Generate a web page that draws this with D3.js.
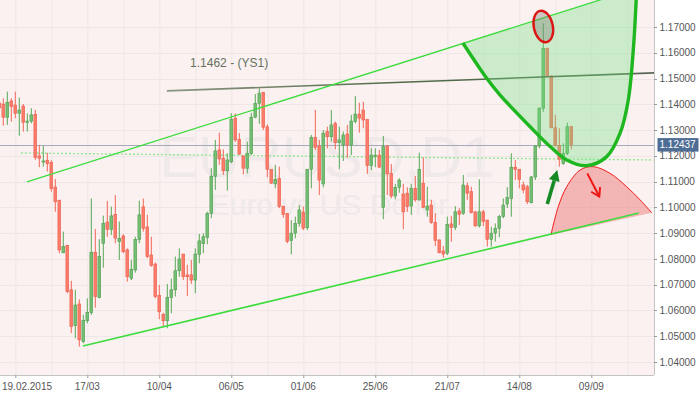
<!DOCTYPE html>
<html>
<head>
<meta charset="utf-8">
<script src="https://cdn.jsdelivr.net/npm/d3@7"></script>
<style>
  body { margin: 0; background: #fff; }
  svg { display: block; }
</style>
</head>
<body>
<div id="chart"></div>
<script>
// EURUSD daily candles, first bar = 13.02.2015 (bar index 0)
const open = [1.1405,1.1401,1.1350,1.1413,1.1397,1.1365,1.1393,1.1330,1.1335,1.1361,
  1.1200,1.1177,1.1183,1.1175,1.1079,1.1028,1.0824,1.0853,1.0680,1.0541,
  1.0625,1.0479,1.0560,1.0592,1.0826,1.0651,1.0861,1.0943,1.0915,1.0973,
  1.0867,1.0889,1.0835,1.0725,1.0757,1.0876,1.1002,1.0924,1.0815,1.0780,
  1.0659,1.0585,1.0560,1.0650,1.0680,1.0754,1.0819,1.0738,1.0738,1.0718,
  1.0818,1.0859,1.0884,1.0977,1.1121,1.1223,1.1191,1.1142,1.1177,1.1346,
  1.1264,1.1200,1.1152,1.1210,1.1350,1.1404,1.1447,1.1313,1.1148,1.1091,
  1.1113,1.1005,1.0977,1.0871,1.0900,1.0938,1.0982,1.0921,1.1148,1.1272,
  1.1238,1.1091,1.1294,1.1274,1.1326,1.1251,1.1242,1.1285,1.1242,1.1333,
  1.1362,1.1378,1.1342,1.1162,1.1197,1.1203,1.1000,1.1238,1.1132,1.1044,
  1.1078,1.1052,1.1055,1.1005,1.1074,1.1029,1.1094,1.0990,1.1009,1.0941,
  1.0874,1.0831,1.0822,1.0936,1.0922,1.0986,1.0977,1.1084,1.1061,1.0983,
  1.0928,1.0983,1.0951,1.0876,1.0900,1.0919,1.0964,1.1013,1.1035,1.1156,
  1.1148,1.1087,1.1080,1.1018,1.1118,1.1238,1.1385,1.1617,1.1510,1.1309,
  1.1241,1.1170,1.1210,1.1313];
const high = [1.1428,1.1423,1.1449,1.1423,1.1449,1.1426,1.1401,1.1365,1.1385,1.1378,
  1.1242,1.1238,1.1212,1.1183,1.1110,1.1028,1.0906,1.0853,1.0715,1.0680,
  1.0643,1.0583,1.0647,1.1035,1.0916,1.0877,1.0968,1.1025,1.1003,1.1048,
  1.0945,1.0896,1.0841,1.0796,1.0886,1.1026,1.1034,1.0971,1.0886,1.0786,
  1.0699,1.0591,1.0703,1.0723,1.0809,1.0841,1.0819,1.0777,1.0796,1.0841,
  1.0897,1.0900,1.0983,1.1152,1.1262,1.1290,1.1225,1.1210,1.1365,1.1365,
  1.1288,1.1200,1.1255,1.1367,1.1440,1.1462,1.1447,1.1322,1.1148,1.1165,
  1.1158,1.1005,1.0977,1.0951,1.0964,1.1009,1.1003,1.1148,1.1281,1.1378,
  1.1262,1.1300,1.1313,1.1378,1.1333,1.1313,1.1294,1.1320,1.1359,1.1432,
  1.1406,1.1410,1.1342,1.1229,1.1229,1.1223,1.1277,1.1242,1.1168,1.1091,
  1.1113,1.1091,1.1078,1.1091,1.1122,1.1212,1.1194,1.1080,1.1029,1.0977,
  1.0874,1.0850,1.0964,1.0967,1.1005,1.0997,1.1126,1.1096,1.1080,1.0983,
  1.1109,1.0990,1.0951,1.0925,1.0938,1.0971,1.1035,1.1078,1.1210,1.1184,
  1.1148,1.1100,1.1087,1.1122,1.1242,1.1388,1.1714,1.1620,1.1512,1.1359,
  1.1307,1.1249,1.1329,1.1316];
const low = [1.1370,1.1317,1.1320,1.1333,1.1346,1.1278,1.1294,1.1294,1.1326,1.1184,
  1.1156,1.1158,1.1139,1.1061,1.0983,1.0822,1.0822,1.0667,1.0512,1.0492,
  1.0460,1.0473,1.0550,1.0583,1.0611,1.0647,1.0766,1.0886,1.0893,1.0861,
  1.0796,1.0822,1.0712,1.0718,1.0747,1.0861,1.0906,1.0803,1.0770,1.0647,
  1.0566,1.0537,1.0531,1.0589,1.0654,1.0731,1.0718,1.0656,1.0703,1.0667,
  1.0783,1.0822,1.0857,1.0958,1.1068,1.1165,1.1126,1.1065,1.1171,1.1255,
  1.1203,1.1128,1.1132,1.1203,1.1346,1.1324,1.1300,1.1117,1.1091,1.1074,
  1.0997,1.0960,1.0861,1.0818,1.0880,1.0925,1.0912,1.0912,1.1074,1.1223,
  1.1048,1.1078,1.1229,1.1255,1.1225,1.1148,1.1180,1.1192,1.1203,1.1326,
  1.1290,1.1307,1.1130,1.1145,1.1156,1.1152,1.0954,1.1048,1.1035,1.1031,
  1.1057,1.0915,1.0983,1.0971,1.1022,1.1026,1.0997,1.0964,1.0936,1.0850,
  1.0822,1.0805,1.0815,1.0867,1.0912,1.0932,1.0971,1.1029,1.0977,1.0925,
  1.0922,1.0928,1.0848,1.0848,1.0867,1.0884,1.0958,1.0997,1.0964,1.1106,
  1.1074,1.1055,1.1013,1.1016,1.1106,1.1229,1.1371,1.1507,1.1307,1.1236,
  1.1158,1.1165,1.1203,1.1225];
const close = [1.1386,1.1350,1.1408,1.1392,1.1365,1.1378,1.1330,1.1335,1.1359,1.1194,
  1.1191,1.1180,1.1170,1.1073,1.1022,1.0835,1.0848,1.0673,1.0537,1.0621,
  1.0486,1.0562,1.0592,1.0826,1.0654,1.0810,1.0938,1.0915,1.0967,1.0881,
  1.0880,1.0828,1.0731,1.0760,1.0876,1.0971,1.0919,1.0809,1.0775,1.0654,
  1.0595,1.0560,1.0651,1.0680,1.0754,1.0800,1.0731,1.0731,1.0718,1.0819,
  1.0870,1.0886,1.0977,1.1121,1.1219,1.1188,1.1142,1.1184,1.1342,1.1262,
  1.1207,1.1152,1.1210,1.1350,1.1404,1.1443,1.1311,1.1148,1.1094,1.1109,
  1.1003,1.0973,1.0867,1.0900,1.0938,1.0990,1.0919,1.1148,1.1272,1.1233,
  1.1106,1.1288,1.1274,1.1320,1.1251,1.1262,1.1281,1.1242,1.1335,1.1362,
  1.1346,1.1339,1.1162,1.1203,1.1203,1.1156,1.1236,1.1130,1.1044,1.1078,
  1.1106,1.0983,1.1003,1.1074,1.1029,1.1148,1.0999,1.1005,1.0941,1.0871,
  1.0824,1.0819,1.0934,1.0922,1.0983,1.0973,1.1087,1.1055,1.0979,1.0928,
  1.0983,1.0945,1.0876,1.0900,1.0919,1.0964,1.1009,1.1039,1.1156,1.1148,
  1.1109,1.1068,1.1022,1.1118,1.1238,1.1385,1.1617,1.1510,1.1309,1.1241,
  1.1187,1.1210,1.1313,1.12437];

// bottom axis labels (bar index -> text)
const dateTickIdx = [4, 22, 40, 58, 76, 94, 112, 130, 148];
const dateTickLabels = ["19.02.2015", "17/03", "10/04", "06/05", "01/06", "25/06", "21/07", "14/08", "09/09"];
const priceTicks = d3.range(1.04, 1.1705, 0.01);

// drawn annotations, in [bar index, price]
const upperChannel = [[6.9, 1.1099], [165, 1.1878]];
const lowerChannel = [[20.9, 1.0462], [159.9, 1.0978]];
const ys1Line = [[41.9, 1.1452], [163.7, 1.1522]];
const ys1Value = 1.1462;
const dottedLevel = [[5.4, 1.1211], [163.5, 1.1184]];
const bowl = [[115.9, 1.1638], [121.85, 1.1501], [125.2, 1.1436], [132.7, 1.1313], [137.7, 1.1236],
  [141.85, 1.1184], [146.85, 1.1162], [151.85, 1.1197], [155.2, 1.1288], [157.25, 1.1417],
  [158.5, 1.1611], [159.3, 1.1830]];
const dome = [[137.9, 1.0893], [139.75, 1.1003], [141.85, 1.1080], [145.2, 1.1145], [148.5, 1.1158],
  [152.7, 1.1132], [156.85, 1.1080], [160.2, 1.1029], [163.1, 1.0979]];
const spikeMark = [136, 1.1702];
const upArrow = [[137, 1.1013], [139.5, 1.1145]];
const downArrow = [[147, 1.1132], [150, 1.1042]];

const W = 700, H = 394;
const plotW = 654, plotH = 375;
const axisFont = "'Liberation Sans', Arial, sans-serif";

const x = d3.scaleLinear().domain([0, 160]).range([-0.7, 639.3]);
const y = d3.scaleLinear().domain([1.04, 1.17]).range([362, 27]);

const svg = d3.select("#chart").append("svg")
  .attr("width", W).attr("height", H)
  .style("font-family", axisFont);

svg.append("rect").attr("width", W).attr("height", H).attr("fill", "#fff");

const defs = svg.append("defs");
defs.append("clipPath").attr("id", "plotclip")
  .append("rect").attr("width", plotW).attr("height", plotH);

const plot = svg.append("g").attr("clip-path", "url(#plotclip)");

plot.append("rect").attr("width", plotW).attr("height", plotH).attr("fill", "#faf1f0");

// grid
const gridIdx = d3.range(4, 161, 9);
plot.append("g").selectAll("line").data(gridIdx).join("line")
  .attr("x1", d => x(d) + 0.5).attr("x2", d => x(d) + 0.5)
  .attr("y1", 0).attr("y2", plotH)
  .attr("stroke", "#efe7e7").attr("stroke-width", 1);
plot.append("g").selectAll("line").data(priceTicks).join("line")
  .attr("x1", 0).attr("x2", plotW)
  .attr("y1", d => Math.round(y(d)) + 0.5).attr("y2", d => Math.round(y(d)) + 0.5)
  .attr("stroke", "#efe7e7").attr("stroke-width", 1);

// watermark
plot.append("text").attr("x", plotW / 2).attr("y", 177)
  .attr("text-anchor", "middle").attr("font-size", 58)
  .attr("fill", "#f0e9e9").text("EURUSD,D1");
plot.append("text").attr("x", plotW / 2 + 2).attr("y", 215)
  .attr("text-anchor", "middle").attr("font-size", 30)
  .attr("fill", "#f0e9e9").text("Euro vs US Dollar");

const lastClose = close[close.length - 1];
const line = d3.line().x(d => x(d[0])).y(d => y(d[1]));

// current price line
plot.append("line")
  .attr("x1", 0).attr("x2", plotW)
  .attr("y1", Math.round(y(lastClose)) + 0.5).attr("y2", Math.round(y(lastClose)) + 0.5)
  .attr("stroke", "#a4aabb").attr("stroke-width", 1.2);

// dotted level
plot.append("path").attr("d", line(dottedLevel))
  .attr("fill", "none").attr("stroke", "#8fe88f")
  .attr("stroke-width", 1.4).attr("stroke-dasharray", "2,2");

// candles
const candles = d3.range(close.length).map(i => ({
  i, o: open[i], h: high[i], l: low[i], c: close[i], up: close[i] >= open[i]
}));
const cg = plot.append("g");
cg.selectAll("line").data(candles).join("line")
  .attr("x1", d => x(d.i)).attr("x2", d => x(d.i))
  .attr("y1", d => y(d.h)).attr("y2", d => y(d.l))
  .attr("stroke", d => d.up ? "#58a858" : "#f26656").attr("stroke-width", 1);
cg.selectAll("rect").data(candles).join("rect")
  .attr("x", d => x(d.i) - 1.4).attr("width", 2.8)
  .attr("y", d => y(Math.max(d.o, d.c)))
  .attr("height", d => Math.max(1, Math.abs(y(d.o) - y(d.c))))
  .attr("fill", d => d.up ? "#74bf74" : "#fa7c6b")
  .attr("stroke", d => d.up ? "#4f9d4f" : "#ec5e4d").attr("stroke-width", 0.6);

// YS1 line + label
const grad = defs.append("linearGradient").attr("id", "ysgrad")
  .attr("gradientUnits", "userSpaceOnUse")
  .attr("x1", x(ys1Line[0][0])).attr("x2", x(ys1Line[1][0])).attr("y1", 0).attr("y2", 0);
grad.append("stop").attr("offset", "0").attr("stop-color", "#8a9482");
grad.append("stop").attr("offset", "0.5").attr("stop-color", "#4f6a45");
grad.append("stop").attr("offset", "1").attr("stop-color", "#5a6656");
plot.append("path").attr("d", line(ys1Line))
  .attr("fill", "none").attr("stroke", "url(#ysgrad)").attr("stroke-width", 1.6);
plot.append("text")
  .attr("x", x(47.7)).attr("y", y(1.1544))
  .attr("font-size", 12).attr("fill", "#66725f")
  .text(ys1Value.toFixed(4) + " - (YS1)");

// green bowl fill and outline
const curve = d3.line().x(d => x(d[0])).y(d => y(d[1])).curve(d3.curveCatmullRom);
const bowlArea = curve(bowl) + "L" + x(upperChannel[1][0]) + "," + y(upperChannel[1][1]) +
  "L" + x(bowl[0][0]) + "," + y(bowl[0][1]) + "Z";
plot.append("path").attr("d", bowlArea)
  .attr("fill", "rgb(110,225,125)").attr("fill-opacity", 0.33).attr("stroke", "none");

// red dome
plot.append("path").attr("d", curve(dome) + "Z")
  .attr("fill", "rgb(235,100,100)").attr("fill-opacity", 0.42).attr("stroke", "none");
plot.append("path").attr("d", curve(dome))
  .attr("fill", "none").attr("stroke", "#f01c1c").attr("stroke-width", 1);

// channel lines (on top of the fills)
plot.append("path").attr("d", line(upperChannel))
  .attr("fill", "none").attr("stroke", "#3ddc3d").attr("stroke-width", 1.3);
plot.append("path").attr("d", line(lowerChannel))
  .attr("fill", "none").attr("stroke", "#3ddc3d").attr("stroke-width", 1.5);

plot.append("path").attr("d", curve(bowl))
  .attr("fill", "none").attr("stroke", "#1fb71f").attr("stroke-width", 3.4);

// ellipse around the spike
plot.append("ellipse")
  .attr("cx", x(spikeMark[0])).attr("cy", y(spikeMark[1]))
  .attr("rx", 9.5).attr("ry", 16)
  .attr("transform", `rotate(-12 ${x(spikeMark[0])} ${y(spikeMark[1])})`)
  .attr("fill", "rgb(120,115,110)").attr("fill-opacity", 0.35)
  .attr("stroke", "#dd1515").attr("stroke-width", 2.4);

// arrows
function arrow(pts, color, width, headLen, headW, filled) {
  const x0 = x(pts[0][0]), y0 = y(pts[0][1]), x1 = x(pts[1][0]), y1 = y(pts[1][1]);
  const a = Math.atan2(y1 - y0, x1 - x0);
  const bx = x1 - headLen * Math.cos(a), by = y1 - headLen * Math.sin(a);
  const px = -Math.sin(a) * headW / 2, py = Math.cos(a) * headW / 2;
  const g = plot.append("g");
  g.append("line").attr("x1", x0).attr("y1", y0)
    .attr("x2", filled ? bx : x1).attr("y2", filled ? by : y1)
    .attr("stroke", color).attr("stroke-width", width);
  if (filled) {
    g.append("path").attr("d", `M${x1},${y1}L${bx + px},${by + py}L${bx - px},${by - py}Z`)
      .attr("fill", color);
  } else {
    g.append("path").attr("d", `M${bx + px},${by + py}L${x1},${y1}L${bx - px},${by - py}`)
      .attr("fill", "none").attr("stroke", color).attr("stroke-width", width);
  }
}
arrow(upArrow, "#168a24", 3.6, 11, 11, true);
arrow(downArrow, "#ee1515", 2, 8, 10, false);

// axes
svg.append("line").attr("x1", plotW + 0.5).attr("x2", plotW + 0.5).attr("y1", 0).attr("y2", plotH)
  .attr("stroke", "#c4c4c4");
svg.append("line").attr("x1", 0).attr("x2", plotW).attr("y1", plotH + 0.5).attr("y2", plotH + 0.5)
  .attr("stroke", "#c4c4c4");

const yAx = svg.append("g");
yAx.selectAll("line").data(priceTicks).join("line")
  .attr("x1", plotW).attr("x2", plotW + 3)
  .attr("y1", d => Math.round(y(d)) + 0.5).attr("y2", d => Math.round(y(d)) + 0.5)
  .attr("stroke", "#9a9a9a");
yAx.selectAll("text").data(priceTicks).join("text")
  .attr("x", plotW + 5.5).attr("y", d => y(d) + 3.6)
  .attr("font-size", 10).attr("fill", "#555")
  .text(d => d3.format(".5f")(d));

const xAx = svg.append("g");
xAx.selectAll("line").data(dateTickIdx).join("line")
  .attr("x1", d => x(d) + 0.5).attr("x2", d => x(d) + 0.5)
  .attr("y1", plotH).attr("y2", plotH + 3)
  .attr("stroke", "#9a9a9a");
xAx.selectAll("text").data(dateTickIdx).join("text")
  .attr("x", (d, k) => k === 0 ? 2 : x(d))
  .attr("text-anchor", (d, k) => k === 0 ? "start" : "middle")
  .attr("y", 390)
  .attr("font-size", 10).attr("fill", "#555")
  .text((d, k) => dateTickLabels[k]);

// current price tag
const tagY = y(lastClose);
svg.append("rect").attr("x", plotW + 3.5).attr("y", tagY - 6.5).attr("width", 41).attr("height", 13.5)
  .attr("fill", "#4e6d95");
svg.append("text").attr("x", plotW + 5.5).attr("y", tagY + 3.6)
  .attr("font-size", 10).attr("fill", "#fff")
  .text(lastClose.toFixed(5));
</script>
</body>
</html>
